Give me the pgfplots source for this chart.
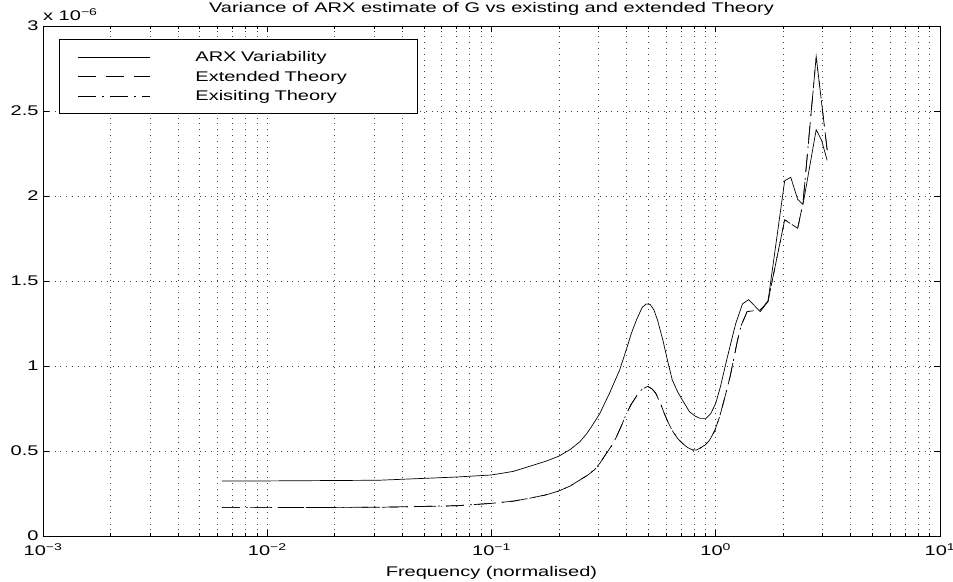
\documentclass[border=0pt]{standalone}
\usepackage{fontspec}
\setmainfont{Liberation Sans}[FakeStretch=1.43]
\usepackage{pgfplots}
\pgfplotsset{compat=1.18}

\pgfplotstableread{
f v
0.00628 0.324
0.01 0.324
0.0315 0.328
0.07 0.347
0.1 0.359
0.125 0.38
0.148 0.41
0.175 0.44
0.2 0.47
0.225 0.51
0.248 0.555
0.265 0.60
0.28 0.645
0.304 0.72
0.336 0.84
0.3727 0.976
0.40 1.10
0.42 1.19
0.4427 1.27
0.47 1.345
0.49 1.365
0.51 1.362
0.53 1.33
0.55 1.27
0.581 1.153
0.61 1.03
0.64 0.918
0.675 0.85
0.71 0.80
0.764 0.731
0.81 0.705
0.85 0.692
0.906 0.692
0.95 0.72
1.0 0.78
1.05 0.88
1.11 1.016
1.17 1.14
1.228 1.25
1.316 1.365
1.40 1.39
1.58 1.32
1.71 1.38
2.03 2.09
2.16 2.11
2.32 1.98
2.45 1.95
2.805 2.39
2.96 2.33
3.14 2.21
}\arx

\pgfplotstableread{
f v
0.00628 0.167
0.01 0.167
0.0315 0.169
0.07 0.178
0.1 0.192
0.125 0.205
0.148 0.222
0.175 0.242
0.2 0.265
0.225 0.295
0.248 0.33
0.27 0.36
0.288 0.39
0.305 0.43
0.325 0.485
0.345 0.535
0.36 0.58
0.38 0.65
0.40 0.72
0.42 0.775
0.442 0.82
0.47 0.865
0.498 0.88
0.52 0.865
0.54 0.84
0.565 0.785
0.59 0.72
0.615 0.665
0.64 0.62
0.675 0.575
0.71 0.545
0.75 0.52
0.79 0.506
0.82 0.506
0.85 0.516
0.90 0.537
0.94 0.565
0.99 0.62
1.04 0.70
1.10 0.82
1.16 0.94
1.25 1.15
1.30 1.24
1.38 1.32
1.58 1.33
1.71 1.38
2.03 1.86
2.32 1.81
2.45 1.96
2.805 2.82
3.14 2.27
}\extended

\pgfplotstableread{
f v
0.00628 0.167
0.01 0.167
0.0315 0.169
0.07 0.178
0.1 0.192
0.125 0.205
0.148 0.222
0.175 0.242
0.2 0.265
0.225 0.295
0.248 0.33
0.27 0.36
0.288 0.39
0.305 0.43
0.325 0.485
0.345 0.535
0.36 0.58
0.38 0.65
0.40 0.72
0.42 0.775
0.442 0.82
0.47 0.865
0.498 0.88
0.52 0.865
0.54 0.84
0.565 0.785
0.59 0.72
0.615 0.665
0.64 0.62
0.675 0.575
0.71 0.545
0.75 0.52
0.79 0.506
0.82 0.506
0.85 0.516
0.90 0.537
0.94 0.565
0.99 0.62
1.04 0.70
1.10 0.82
1.16 0.94
1.25 1.15
1.30 1.24
1.38 1.32
1.58 1.33
1.71 1.38
2.03 1.86
2.32 1.81
2.45 1.96
2.805 2.82
3.14 2.27
}\existing

\begin{document}
\begin{tikzpicture}
\path[use as bounding box] (-43bp,-46bp) rectangle (910bp,536bp);
\begin{axis}[
  scale only axis, width=897bp, height=510bp,
  xmode=log, xmin=1e-3, xmax=10, ymin=0, ymax=3,
  xtick={0.001,0.01,0.1,1,10},
  xticklabels={10\textsuperscript{−3},10\textsuperscript{−2},10\textsuperscript{−1},10\textsuperscript{0},10\textsuperscript{1}},
  ytick={0,0.5,1,1.5,2,2.5,3},
  yticklabels={0,0.5,1,1.5,2,2.5,3},
  scaled ticks=false,
  tick align=inside,
  major tick length=6bp, minor tick length=3bp,
  every tick/.style={black, line width=0.6bp},
  axis line style={line width=0.9bp},
  grid=both,
  major grid style={black!75, line width=0.6bp, dash pattern=on 0.8bp off 5bp},
  minor grid style={black!75, line width=0.6bp, dash pattern=on 0.8bp off 5bp},
  tick label style={font=\fontsize{14bp}{16bp}\selectfont},
  yticklabel style={xshift=-1bp},
  xticklabel style={yshift=-4bp},
  title={Variance of ARX estimate of G vs existing and extended Theory},
  title style={font=\fontsize{14bp}{16bp}\selectfont, at={(0.5,1)}, anchor=base, yshift=8bp, inner sep=0pt},
  xlabel={Frequency (normalised)},
  xlabel style={font=\fontsize{14bp}{16bp}\selectfont, at={(0.5,0)}, anchor=base, yshift=-40bp, inner sep=0pt},
  legend cell align=left,
  legend image code/.code={\path[draw=none, fill=none] (0bp,-9.75bp) rectangle (136bp,9.75bp); \draw[#1] (19bp,0bp) -- (91bp,0bp);},
  legend style={at={(rel axis cs:0.0178,0.9745)}, anchor=north west, draw=black, line width=0.9bp, fill=white,
    inner xsep=0bp, inner ysep=8bp, row sep=0bp, column sep=0bp,
    font=\fontsize{14bp}{16bp}\selectfont,
    nodes={inner xsep=0bp, inner ysep=0bp, text width=222bp, align=left}},
  clip=false,
]
\addplot[black, line width=0.7bp] table[x=f, y=v] {\arx};
\addlegendentry{ARX Variability}
\addplot[black, line width=0.7bp, dash pattern=on 18bp off 10bp] table[x=f, y=v] {\extended};
\addlegendentry{Extended Theory}
\addplot[black, line width=0.7bp, dash pattern=on 18bp off 6bp on 2bp off 6bp] table[x=f, y=v] {\existing};
\addlegendentry{Exisiting Theory}
\node[anchor=base west, inner sep=0pt, font=\fontsize{14bp}{16bp}\selectfont] at (rel axis cs:0,1) [yshift=5bp] {x 10\textsuperscript{−6}};
\end{axis}
\end{tikzpicture}
\end{document}
